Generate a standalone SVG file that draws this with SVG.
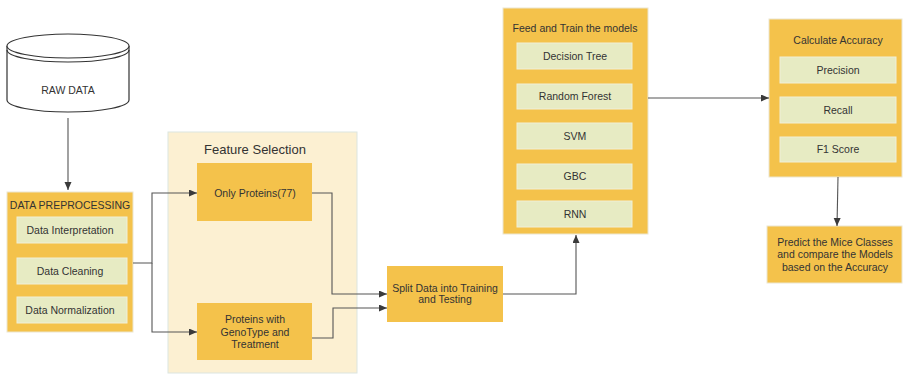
<svg xmlns="http://www.w3.org/2000/svg" width="903" height="375" viewBox="0 0 903 375">
<defs>
<marker id="arr" markerWidth="9" markerHeight="8" refX="8" refY="3.5" orient="auto" markerUnits="userSpaceOnUse">
<path d="M0,0 L8,3.5 L0,7 z" fill="#3a3a3a"/>
</marker>
</defs>
<style>
.t{font-family:"Liberation Sans",Arial,sans-serif;font-size:10.5px;fill:#333;text-anchor:middle}
.big{font-size:13px}
.or{fill:#F4C24B;stroke:#ECE6CF;stroke-width:1}
.in{fill:#E7EBC3;stroke:#F0EFD8;stroke-width:1}
.ln{fill:none;stroke:#555;stroke-width:1.1}
</style>
<rect width="903" height="375" fill="#fff"/>
<g id="raw-data">
<path d="M7,46 L7,100 A61,12 0 0 0 129,100 L129,46" fill="#fff" stroke="#333" stroke-width="1.2"/>
<ellipse cx="68" cy="46" rx="61" ry="12" fill="#fff" stroke="#333" stroke-width="1.2"/>
<path d="M7,50 A61,12 0 0 0 129,50" fill="none" stroke="#333" stroke-width="1.2"/>
<text class="t" x="68" y="94">RAW DATA</text>
</g>
<g id="preprocessing">
<rect class="or" x="7" y="192" width="126" height="140"/>
<text class="t" x="70" y="209">DATA PREPROCESSING</text>
<rect class="in" x="17" y="217" width="110" height="26"/>
<text class="t" x="70" y="234">Data Interpretation</text>
<rect class="in" x="17" y="258" width="110" height="26"/>
<text class="t" x="70" y="275">Data Cleaning</text>
<rect class="in" x="17" y="297" width="110" height="26"/>
<text class="t" x="70" y="314">Data Normalization</text>
</g>
<g id="feature-selection">
<rect x="168" y="132" width="189" height="241" fill="#FCF0D2" stroke="#DCE5E0" stroke-width="1"/>
<text class="t big" x="255" y="154">Feature Selection</text>
</g>
<g id="only-proteins">
<rect x="197" y="163" width="115" height="58" fill="#F4C24B"/>
<text class="t" x="255" y="197">Only Proteins(77)</text>
</g>
<g id="proteins-genotype">
<rect x="197" y="303" width="115" height="57" fill="#F4C24B"/>
<text class="t" x="255" y="323">Proteins with</text>
<text class="t" x="255" y="336">GenoType and</text>
<text class="t" x="255" y="348">Treatment</text>
</g>
<g id="split">
<rect x="387" y="266" width="116" height="56" fill="#F4C24B"/>
<text class="t" x="445" y="292">Split Data into Training</text>
<text class="t" x="445" y="303">and Testing</text>
</g>
<g id="train">
<rect class="or" x="503" y="8" width="145" height="226"/>
<text class="t" x="575" y="32">Feed and Train the models</text>
<rect class="in" x="517" y="43" width="115" height="26"/>
<text class="t" x="575" y="60">Decision Tree</text>
<rect class="in" x="517" y="84" width="115" height="25"/>
<text class="t" x="575" y="100">Random Forest</text>
<rect class="in" x="517" y="123" width="115" height="26"/>
<text class="t" x="575" y="140">SVM</text>
<rect class="in" x="517" y="164" width="115" height="25"/>
<text class="t" x="575" y="180">GBC</text>
<rect class="in" x="517" y="201" width="115" height="26"/>
<text class="t" x="575" y="218">RNN</text>
</g>
<g id="accuracy">
<rect class="or" x="769" y="19" width="133" height="158"/>
<text class="t" x="838" y="44">Calculate Accuracy</text>
<rect class="in" x="780" y="57" width="116" height="26"/>
<text class="t" x="838" y="74">Precision</text>
<rect class="in" x="780" y="97" width="116" height="26"/>
<text class="t" x="838" y="114">Recall</text>
<rect class="in" x="780" y="137" width="116" height="25"/>
<text class="t" x="838" y="153">F1 Score</text>
</g>
<g id="predict">
<rect class="or" x="767" y="226" width="135" height="57"/>
<text class="t" x="835" y="246">Predict the Mice Classes</text>
<text class="t" x="835" y="258">and compare the Models</text>
<text class="t" x="835" y="271">based on the Accuracy</text>
</g>
<g id="connectors">
<path class="ln" d="M68,118 V190" marker-end="url(#arr)"/>
<path class="ln" d="M133,263 H152 V193 H197" marker-end="url(#arr)"/>
<path class="ln" d="M152,263 V332 H197" marker-end="url(#arr)"/>
<path class="ln" d="M312,193 H332 V294 H387" marker-end="url(#arr)"/>
<path class="ln" d="M312,338 H333 V308 H387" marker-end="url(#arr)"/>
<path class="ln" d="M503,294 H576 V235" marker-end="url(#arr)"/>
<path class="ln" d="M648,98 H769" marker-end="url(#arr)"/>
<path class="ln" d="M838,177 L837,226" marker-end="url(#arr)"/>
</g>
</svg>
